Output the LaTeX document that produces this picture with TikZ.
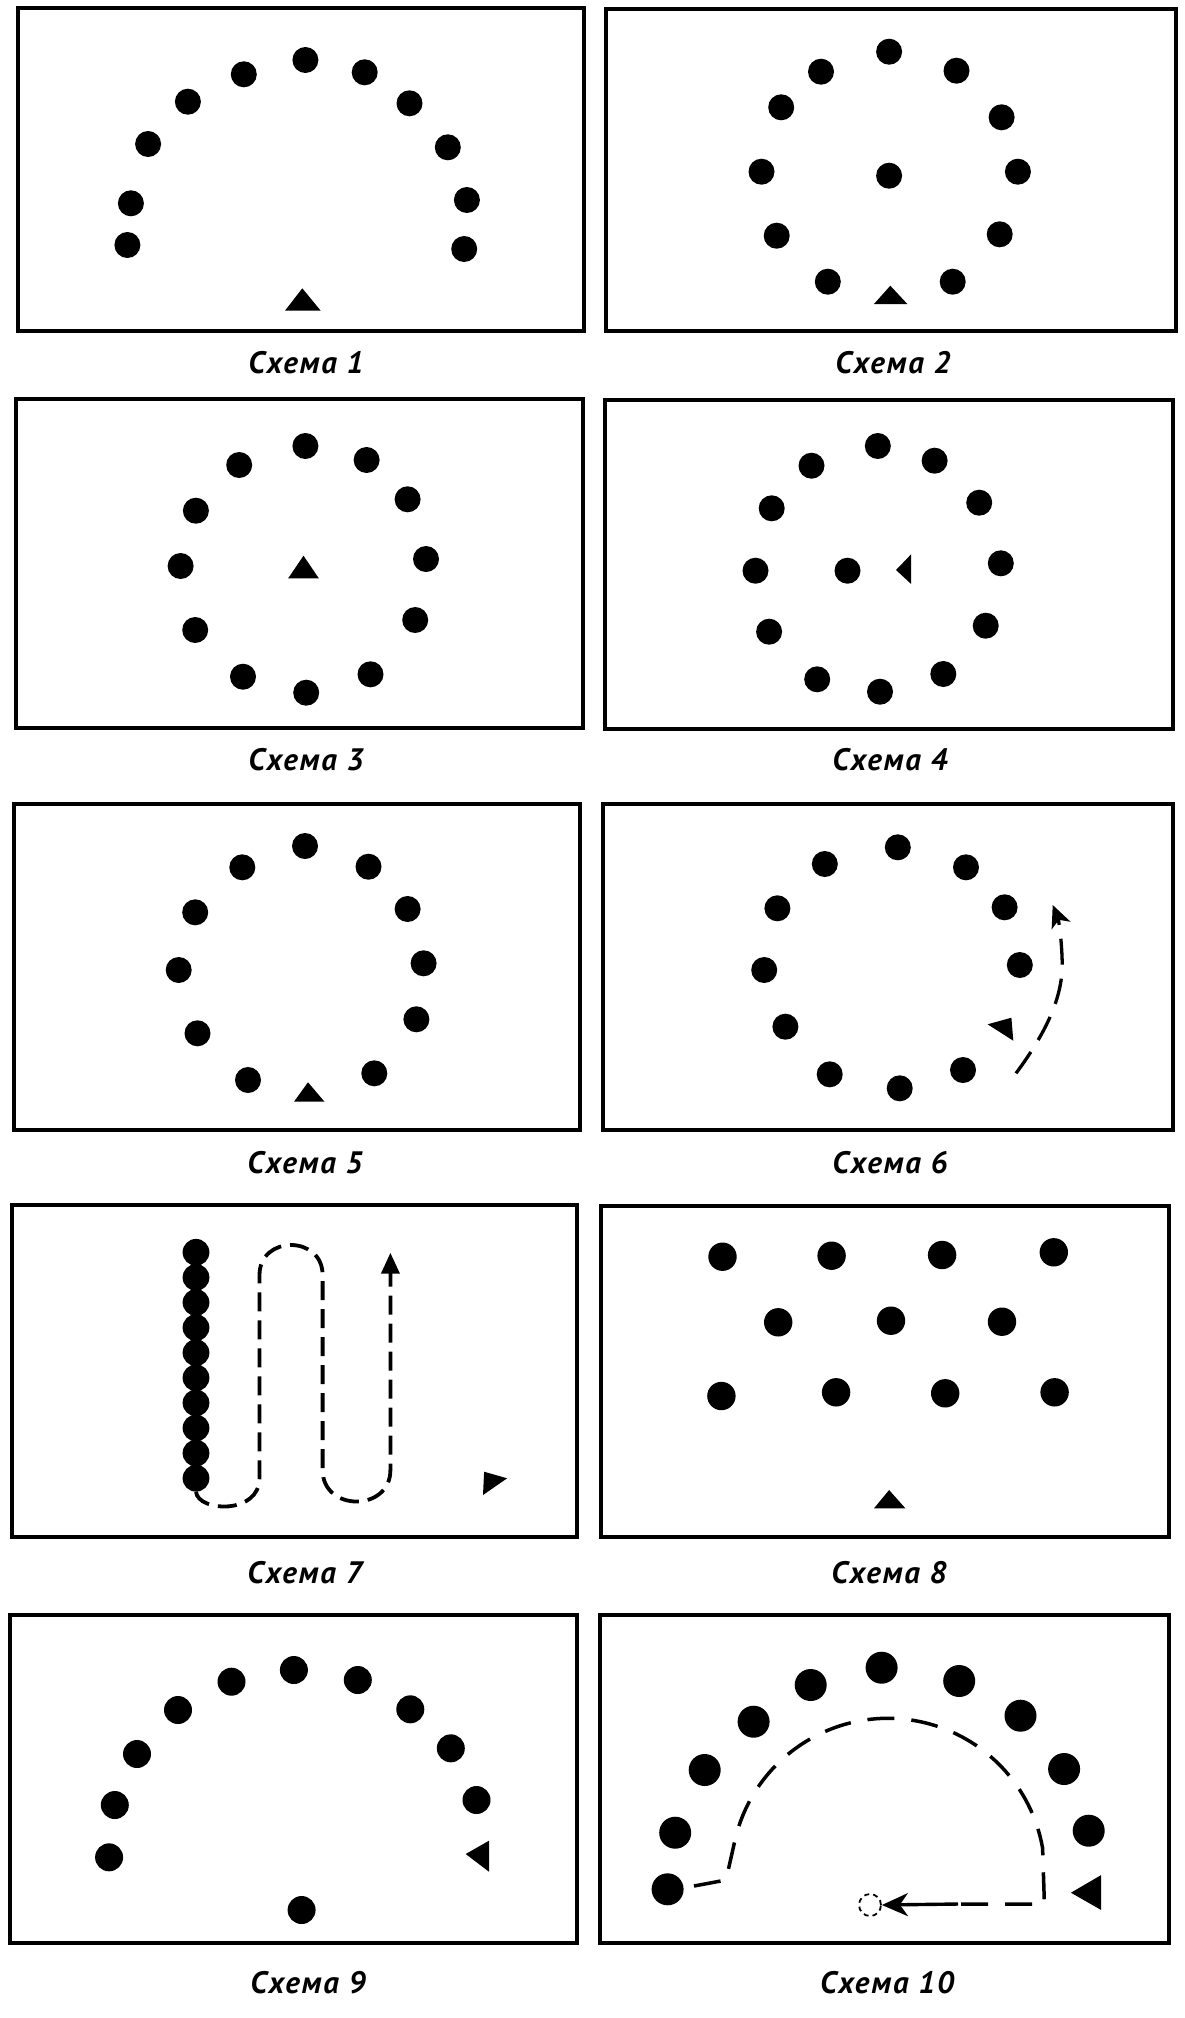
\documentclass[tikz,border=0pt]{standalone}
\usepackage{fontspec}
\newfontfamily\capfont{PT Sans}[LetterSpace=6]
\usetikzlibrary{arrows.meta}
\begin{document}
\begin{tikzpicture}[x=1pt,y=-1pt,
  frame/.style={draw=black,line width=3.2pt},
  dot/.style={circle,fill=black,inner sep=0pt,minimum size=26pt},
  dotB/.style={dot,minimum size=28.4pt},
  dotC/.style={dot,minimum size=32pt},
  captxt/.style={font=\capfont\bfseries\itshape\fontsize{31}{36}\selectfont,inner sep=0pt},
  player/.style={fill=black},
  dashsix/.style={line width=3.3pt,dash pattern=on 26pt off 14pt},
  dashseven/.style={line width=3.8pt,dash pattern=on 19pt off 9pt},
  dashten/.style={line width=3.5pt,dash pattern=on 27pt off 17pt}]
\useasboundingbox[fill=white] (0,0) rectangle (1184,2018);

% frames
\draw[frame] (18,8) rectangle (584,331);
\draw[frame] (606,9) rectangle (1176,331);
\draw[frame] (16,399) rectangle (583,728);
\draw[frame] (605,400) rectangle (1173,729);
\draw[frame] (14,804) rectangle (580,1130);
\draw[frame] (603,804) rectangle (1173,1130);
\draw[frame] (12,1205) rectangle (577,1537);
\draw[frame] (601,1206) rectangle (1169,1537);
\draw[frame] (10,1615) rectangle (577,1943);
\draw[frame] (600,1615) rectangle (1169,1943);

% Scheme 1
\foreach \x/\y [count=\i] in {127.4/245,130.9/203.3,148.1/144,187.9/101.7,243.8/74.3,305.4/60,364.7/72.3,409.5/103.3,447.8/147.3,466.9/200,464.2/249}
  \node[dot] (a\i) at (\x,\y) {};
\fill[player] (302.3,288.3) -- (320.7,310.7) -- (285,310.7) -- cycle;
\node[captxt] (c1) at (306,363) {Схема 1};

% Scheme 2
\foreach \x/\y [count=\i] in {889.1/51.7,821/71.7,956.5/70.7,781.2/107.3,1001.6/117.3,761.5/171.7,889.1/175.7,1017.9/171.7,776.7/235.7,999.7/234.3,827.8/281.7,952.7/281.7}
  \node[dot] (b\i) at (\x,\y) {};
\fill[player] (890.3,285.7) -- (907.3,304) -- (874,304) -- cycle;
\node[captxt] (c2) at (893,363) {Схема 2};

% Scheme 3
\foreach \x/\y [count=\i] in {305.4/446,239.2/465,366.6/460,195.9/510.7,407.6/499.3,180.6/566,426/559,195.2/630,415.2/620,243/676.7,370.5/674.3,306.2/692.7}
  \node[dot] (d\i) at (\x,\y) {};
\fill[player] (303.5,555.7) -- (318.8,578.3) -- (288.2,578.3) -- cycle;
\node[captxt] (c3) at (306,760) {Схема 3};

% Scheme 4
\foreach \x/\y [count=\i] in {877.8/446,811.5/465.7,934.6/460.7,771.7/508.3,979.2/502.7,755.5/570.7,847.5/570.7,1000.8/563.3,769.1/631.7,985.7/625.7,817.2/679.3,943.3/674,880/691.7}
  \node[dot] (e\i) at (\x,\y) {};
\fill[player] (896,570) -- (911.1,554.3) -- (911.1,584) -- cycle;
\node[captxt] (c4) at (890,760) {Схема 4};

% Scheme 5
\foreach \x/\y [count=\i] in {305/846,242.3/867.3,368.5/866.7,195.2/912.3,407.6/909,178.7/970,423.6/963.3,197.5/1033.3,416.4/1019.3,248/1080,374.3/1073.3}
  \node[dot] (f\i) at (\x,\y) {};
\fill[player] (308,1082.3) -- (324.5,1101.7) -- (294,1101.7) -- cycle;
\node[captxt] (c5) at (305,1163) {Схема 5};

% Scheme 6
\foreach \x/\y [count=\i] in {897.8/847.3,824.8/864,966/867.3,777.4/908.3,1004.6/907.3,764.2/970,1019.8/965,785.4/1026.7,829.7/1074.3,963/1070,899.7/1088.3}
  \node[dot] (h\i) at (\x,\y) {};
\fill[player] (987.6,1024.3) -- (1011.4,1017.7) -- (1013.3,1040.7) -- cycle;
\coordinate (s6) at (1016,1073.3);
\coordinate (e6) at (1052.7,905);
\draw[dashsix,-{Stealth[length=22pt,width=20pt,inset=6pt]}] (s6) .. controls (1048,1030) and (1063,995) .. (1062.2,962) .. controls (1061.5,935) and (1058,918) .. (e6);
\node[captxt] (c6) at (890,1163) {Схема 6};

% Scheme 7
\foreach \i in {0,...,9}
  \node[dot,minimum size=26.8pt] (g\i) at ({196},{1252.3+25.1*\i}) {};
\draw[dashseven,-{Triangle[length=21pt,width=18pt]}] (g9.south) .. controls (198,1512) and (259.5,1515) .. (259.5,1478) -- (259.5,1275) .. controls (259.5,1235) and (322.6,1235) .. (322.6,1275) -- (322.6,1470) .. controls (322.6,1512) and (390.4,1512) .. (390.4,1470) -- (390.4,1252.7);
\fill[player] (484.1,1471.7) -- (507.1,1478.3) -- (483,1495) -- cycle;
\node[captxt] (c7) at (305,1573) {Схема 7};

% Scheme 8
\foreach \x/\y [count=\i] in {722.5/1256.7,831.6/1255.7,942.1/1255,1053.8/1252.3,778.2/1322.3,891/1320.7,1002/1321.7,721.4/1396,836.1/1392.3,945.2/1393.3,1054.6/1392.3}
  \node[dotB] (k\i) at (\x,\y) {};
\fill[player] (889.1,1490) -- (905.4,1508.3) -- (874,1508.3) -- cycle;
\node[captxt] (c8) at (889,1573) {Схема 8};

% Scheme 9
\foreach \x/\y [count=\i] in {109.1/1857.3,114.8/1805,137/1754,178/1710,231.5/1681.7,293.9/1670,357.8/1680,410.3/1709.3,450.8/1748.3,476.5/1800,301.6/1910}
  \node[dot,minimum size=28pt] (m\i) at (\x,\y) {};
\fill[player] (465.7,1854) -- (489,1840.7) -- (489,1871.7) -- cycle;
\node[captxt] (c9) at (308,1983) {Схема 9};

% Scheme 10
\foreach \x/\y [count=\i] in {667.6/1889.3,675.2/1832.7,704.7/1770,753.6/1721.7,810.7/1685,881.6/1667.7,959.2/1681,1020.5/1715.7,1064.1/1769,1088.7/1830.7}
  \node[dotC] (n\i) at (\x,\y) {};
\fill[player] (1070.9,1892.7) -- (1101.2,1875) -- (1101.2,1910) -- cycle;
\node[circle,draw,line width=1.8pt,dash pattern=on 5pt off 4pt,minimum size=22pt,inner sep=0pt] (o10) at (870,1905) {};
\coordinate (s10) at (694,1886);
\coordinate (m10) at (958,1904);
\draw[dashten] (s10) -- (726,1880) -- (735,1840) arc[start angle=193,end angle=350,radius=157] -- (1044.4,1904) -- (m10);
\draw[line width=3.4pt,-{Stealth[length=26pt,width=23pt,inset=8pt]}] (m10) -- (o10.east);
\node[captxt] (c10) at (887,1983) {Схема 10};
\end{tikzpicture}
\end{document}
